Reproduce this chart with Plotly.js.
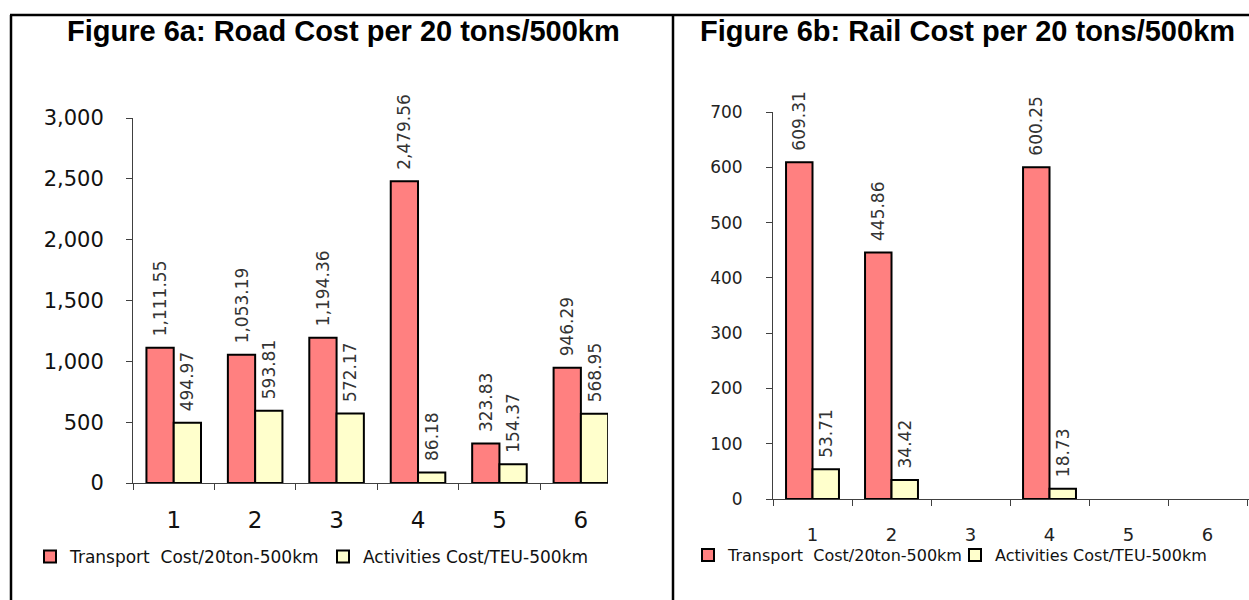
<!DOCTYPE html>
<html>
<head>
<meta charset="utf-8">
<script src="https://cdn.plot.ly/plotly-3.0.1.min.js"></script>
<style>
  html, body { margin: 0; padding: 0; background: #fff; }
  #chart { width: 1249px; height: 600px; }
</style>
</head>
<body>
<div id="chart"></div>
<script>
// Cost categories (scenarios 1-6)
const categories = ['1', '2', '3', '4', '5', '6'];

// Figure 6a: road costs
const roadTransport = [1111.55, 1053.19, 1194.36, 2479.56, 323.83, 946.29];
const roadActivities = [494.97, 593.81, 572.17, 86.18, 154.37, 568.95];

// Figure 6b: rail costs (no rail option for scenarios 3, 5, 6)
const railTransport = [609.31, 445.86, null, 600.25, null, null];
const railActivities = [53.71, 34.42, null, 18.73, null, null];

const seriesNames = ['Transport  Cost/20ton-500km', 'Activities Cost/TEU-500km'];
const roadTicks = [0, 500, 1000, 1500, 2000, 2500, 3000];
const railTicks = [0, 100, 200, 300, 400, 500, 600, 700];
const titles = ['Figure 6a: Road Cost per 20 tons/500km', 'Figure 6b: Rail Cost per 20 tons/500km'];

const W = 1249, H = 600;
const px = v => v / W;          // pixel -> paper x
const py = v => 1 - v / H;      // pixel -> paper y

const RED = '#FF8080';
const YELLOW = '#FFFFCC';
const CHART_FONT = 'DejaVu Sans, Arial, sans-serif';

function barTrace(values, name, color, xa, ya, legend) {
  return {
    type: 'bar',
    x: categories,
    y: values,
    name: name,
    xaxis: xa,
    yaxis: ya,
    legend: legend,
    marker: { color: color, line: { color: '#000', width: 2 } },
    texttemplate: '\u2002%{y:,.2f}',
    textposition: 'outside',
    textangle: -90,
    textfont: { family: CHART_FONT, size: 17, color: '#333' },
    constraintext: 'none',
    cliponaxis: false,
    hoverinfo: 'skip'
  };
}

const data = [
  barTrace(roadTransport, seriesNames[0], RED, 'x', 'y', 'legend'),
  barTrace(roadActivities, seriesNames[1], YELLOW, 'x', 'y', 'legend'),
  barTrace(railTransport, seriesNames[0], RED, 'x2', 'y2', 'legend2'),
  barTrace(railActivities, seriesNames[1], YELLOW, 'x2', 'y2', 'legend2')
];

const axisLine = { showline: true, linecolor: '#404040', linewidth: 1, tickcolor: '#404040',
                   ticks: 'outside', ticklen: 6, showgrid: false, zeroline: false, fixedrange: true };

const legendBase = {
  orientation: 'h', xanchor: 'left', yanchor: 'middle',
  font: { family: CHART_FONT, size: 17, color: '#111' },
  entrywidthmode: 'pixels', itemwidth: 30, traceorder: 'normal',
  bgcolor: 'rgba(0,0,0,0)', borderwidth: 0
};

const border = (x0, y0, x1, y1) => ({
  type: 'line', xref: 'paper', yref: 'paper',
  x0: px(x0), y0: py(y0), x1: px(x1), y1: py(y1),
  line: { color: '#000', width: 2.5 }
});

const layout = {
  width: W, height: H,
  margin: { l: 0, r: 0, t: 0, b: 0 },
  paper_bgcolor: '#fff', plot_bgcolor: 'rgba(0,0,0,0)',
  barmode: 'group', bargap: 0.33, bargroupgap: 0,
  showlegend: true,
  xaxis: Object.assign({}, axisLine, {
    type: 'category', domain: [px(133), px(608)], range: [-0.5, 5.333], anchor: 'y',
    tickson: 'boundaries', ticklabelstandoff: 16,
    tickfont: { family: CHART_FONT, size: 23, color: '#111' }
  }),
  yaxis: Object.assign({}, axisLine, {
    domain: [py(483), py(118)], range: [0, 3000], anchor: 'x',
    tickvals: roadTicks, tickformat: ',', ticklabelstandoff: 18,
    tickfont: { family: CHART_FONT, size: 21, color: '#111' }
  }),
  xaxis2: Object.assign({}, axisLine, {
    type: 'category', domain: [px(773), 1], range: [-0.5, 5.525], anchor: 'y2',
    tickson: 'boundaries', ticklabelstandoff: 19,
    tickfont: { family: CHART_FONT, size: 18, color: '#222' }
  }),
  yaxis2: Object.assign({}, axisLine, {
    domain: [py(499), py(112)], range: [0, 700], anchor: 'x2',
    tickvals: railTicks, ticklabelstandoff: 20,
    tickfont: { family: CHART_FONT, size: 17, color: '#222' }
  }),
  legend: Object.assign({}, legendBase, { x: px(30), y: py(557), entrywidth: 248 }),
  legend2: Object.assign({}, legendBase, {
    x: px(688), y: py(555), entrywidth: 222,
    font: { family: CHART_FONT, size: 16, color: '#111' }
  }),
  annotations: [
    { text: '<b>' + titles[0] + '</b>', xref: 'paper', yref: 'paper', x: px(343), y: py(31),
      xanchor: 'center', yanchor: 'middle', showarrow: false,
      font: { family: 'Liberation Sans, Arial, sans-serif', size: 29, color: '#000' } },
    { text: '<b>' + titles[1] + '</b>', xref: 'paper', yref: 'paper', x: px(967), y: py(31),
      xanchor: 'center', yanchor: 'middle', showarrow: false,
      font: { family: 'Liberation Sans, Arial, sans-serif', size: 29, color: '#000' } }
  ],
  shapes: [
    border(10, 15, W, 15),    // top frame
    border(11, 15, 11, H),    // left frame
    border(673, 15, 673, H)   // divider between the two figures
  ]
};

Plotly.newPlot('chart', data, layout, { staticPlot: true, displayModeBar: false });
</script>
</body>
</html>
